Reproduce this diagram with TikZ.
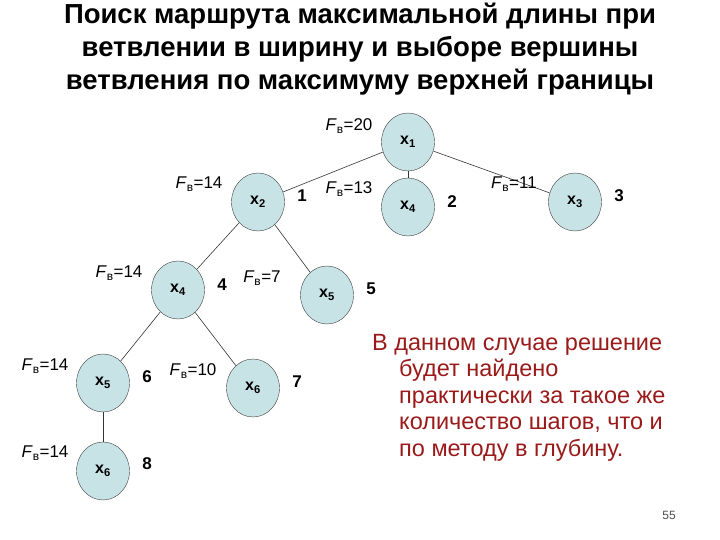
\documentclass[tikz,border=0pt]{standalone}
\usepackage{fontspec}
\setmainfont{Liberation Sans}
\usetikzlibrary{shapes.geometric}
\definecolor{nodefill}{HTML}{C8E3E6}
\definecolor{txtred}{HTML}{9A1A1A}
\begin{document}
\begin{tikzpicture}[x=1pt,y=-1pt,
  vert/.style={ellipse,draw=black!75,fill=nodefill,minimum width=53pt,minimum height=58pt,inner sep=0pt,font=\fontsize{16}{16}\selectfont\bfseries},
  fl/.style={font=\fontsize{17}{17}\selectfont,inner sep=0pt},
  num/.style={font=\fontsize{17}{17}\selectfont\bfseries,inner sep=0pt},
  edge/.style={draw=black!80,line width=0.6pt}]
\useasboundingbox (0,0) rectangle (720,540);
\node[font=\fontsize{27.5}{33}\selectfont\bfseries,align=center] (title) at (360,49)
 {Поиск маршрута максимальной длины при\\ветвлении в ширину и выборе вершины\\ветвления по максимуму верхней границы};
\node[vert] (x1) at (408,142) {x\textsubscript{1}};
\node[vert] (x2) at (258,202) {x\textsubscript{2}};
\node[vert] (x4a) at (408,207) {x\textsubscript{4}};
\node[vert] (x3) at (575,202) {x\textsubscript{3}};
\node[vert] (x4b) at (178,290) {x\textsubscript{4}};
\node[vert] (x5a) at (327,295) {x\textsubscript{5}};
\node[vert] (x5b) at (103,383) {x\textsubscript{5}};
\node[vert] (x6a) at (253,388) {x\textsubscript{6}};
\node[vert] (x6b) at (103,471) {x\textsubscript{6}};
\draw[edge] (x1) -- (x2);
\draw[edge] (x1) -- (x4a);
\draw[edge] (x1) -- (x3);
\draw[edge] (x2) -- (x4b);
\draw[edge] (x2) -- (x5a);
\draw[edge] (x4b) -- (x5b);
\draw[edge] (x4b) -- (x6a);
\draw[edge] (x5b) -- (x6b);
\node[fl] (f1) at (349,126) {\textit{F}\textsubscript{в}=20};
\node[fl] (f2) at (199,184) {\textit{F}\textsubscript{в}=14};
\node[fl] (f3) at (349,189) {\textit{F}\textsubscript{в}=13};
\node[fl] (f4) at (514,184) {\textit{F}\textsubscript{в}=11};
\node[fl] (f5) at (119,273) {\textit{F}\textsubscript{в}=14};
\node[fl] (f6) at (262,278) {\textit{F}\textsubscript{в}=7};
\node[fl] (f7) at (45,366) {\textit{F}\textsubscript{в}=14};
\node[fl] (f8) at (193,371) {\textit{F}\textsubscript{в}=10};
\node[fl] (f9) at (45,453) {\textit{F}\textsubscript{в}=14};
\node[num] (n1) at (302,196) {1};
\node[num] (n2) at (452,202) {2};
\node[num] (n3) at (619,196) {3};
\node[num] (n4) at (222,285) {4};
\node[num] (n5) at (371,289) {5};
\node[num] (n6) at (147,377) {6};
\node[num] (n7) at (297,382) {7};
\node[num] (n8) at (147,464) {8};
\node[font=\fontsize{23.5}{26.5}\selectfont,text=txtred,align=left,anchor=north west,inner sep=0pt] (note) at (372,334)
 {В данном случае решение\\\hspace*{27pt}будет найдено\\\hspace*{27pt}практически за такое же\\\hspace*{27pt}количество шагов, что и\\\hspace*{27pt}по методу в глубину.};
\node[font=\fontsize{12}{12}\selectfont,text=black!70,inner sep=0pt] (pg) at (669,515) {55};
\end{tikzpicture}
\end{document}
